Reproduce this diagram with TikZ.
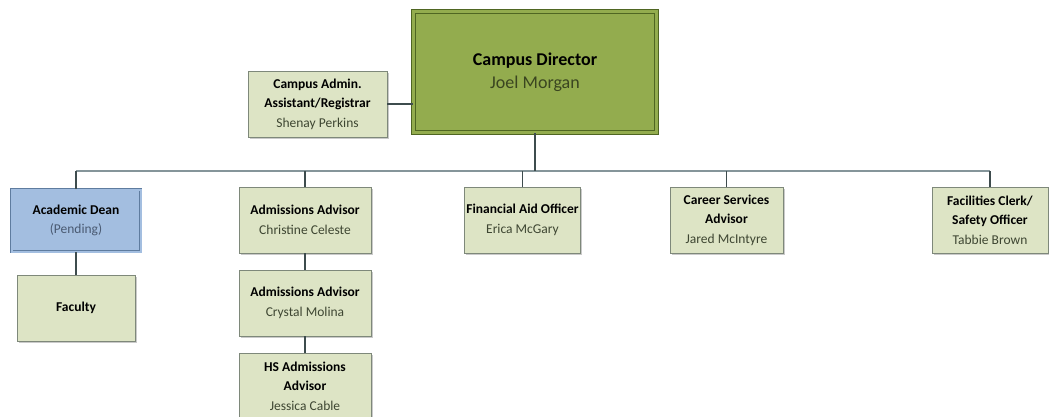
\documentclass[tikz,border=0pt]{standalone}
\usepackage{fontspec}
\setmainfont{Carlito}
\usetikzlibrary{shadows}
\definecolor{lightfill}{HTML}{DDE4C5}
\definecolor{lightborder}{HTML}{7E887A}
\definecolor{dirfill}{HTML}{93AC4E}
\definecolor{dirborder}{HTML}{4F6622}
\definecolor{deanfill}{HTML}{A3BEE0}
\definecolor{deanborder}{HTML}{5F7C9F}
\definecolor{namecol}{HTML}{3E4632}
\definecolor{dirname}{HTML}{3A4520}
\definecolor{deanname}{HTML}{4A5A72}
\definecolor{linecol}{HTML}{3E4C4E}
\definecolor{buscol}{HTML}{85959A}
\tikzset{
  shad/.style={drop shadow={shadow xshift=1.5pt, shadow yshift=-1.5pt, opacity=0.35, fill=black!60}},
  box/.style={shad, draw=lightborder, fill=lightfill, line width=0.9pt, align=center,
    inner sep=2pt, minimum width=132pt, minimum height=66pt,
    font=\fontsize{13.5}{19.5}\selectfont},
  dirbox/.style={shad, draw=dirborder, fill=dirfill, line width=0.9pt, double=dirfill, double distance=2.5pt,
    align=center, minimum width=243pt, minimum height=121pt, font=\fontsize{18}{23}\selectfont},
  deanbox/.style={box, draw=deanborder, fill=deanfill, double=deanfill, double distance=2pt,
    minimum width=129pt, minimum height=62pt},
  conn/.style={draw=linecol, line width=1.2pt},
  bus/.style={draw=buscol, line width=1.2pt}
}
\begin{document}
\begin{tikzpicture}[x=1pt,y=-1pt]
\useasboundingbox (0,0) rectangle (1049,416);
\clip (0,0) rectangle (1049,416);
\node[dirbox] (dir) at (535,72) {\textbf{Campus Director}\\\textcolor{dirname}{Joel Morgan}};
\node[box, minimum width=139pt] (asst) at (317.5,104) {\textbf{Campus Admin.}\\\textbf{Assistant/Registrar}\\\textcolor{namecol}{Shenay Perkins}};
\node[deanbox] (dean) at (76,220.5) {\textbf{Academic Dean}\\\textcolor{deanname}{(Pending)}};
\node[box, minimum width=118pt] (fac) at (76,308) {\textbf{Faculty}};
\node[box] (adm1) at (305,220) {\textbf{Admissions Advisor}\\\textcolor{namecol}{Christine Celeste}};
\node[box] (adm2) at (305,303) {\textbf{Admissions Advisor}\\\textcolor{namecol}{Crystal Molina}};
\node[box] (hs) at (305,386) {\textbf{HS Admissions}\\\textbf{Advisor}\\\textcolor{namecol}{Jessica Cable}};
\node[box, minimum width=112pt] (fin) at (522.5,220) {\textbf{Financial Aid Officer}\\\textcolor{namecol}{Erica McGary}};
\node[box, minimum width=113pt] (car) at (726.5,220) {\textbf{Career Services}\\\textbf{Advisor}\\\textcolor{namecol}{Jared McIntyre}};
\node[box, minimum width=116pt] (fcl) at (990,220) {\textbf{Facilities Clerk/}\\\textbf{Safety Officer}\\\textcolor{namecol}{Tabbie Brown}};
\coordinate (busL) at (76,171);
\coordinate (busR) at (990,171);
\draw[bus] (busL) -- (busR);
\draw[conn] (dir.south) -- (dir.south |- busL);
\draw[conn] (adm1.north) -- (adm1.north |- busL);
\draw[conn] (fin.north) -- (fin.north |- busL);
\draw[conn] (car.north) -- (car.north |- busL);
\draw[conn] (fcl.north) -- (fcl.north |- busL);
\draw[conn] (dean.north) -- (dean.north |- busL);
\draw[conn] (asst.east) -- (asst.east -| dir.west);
\draw[conn] (dean.south) -- (fac.north);
\draw[conn] (adm1.south) -- (adm2.north);
\draw[conn] (adm2.south) -- (hs.north);
\end{tikzpicture}
\end{document}
